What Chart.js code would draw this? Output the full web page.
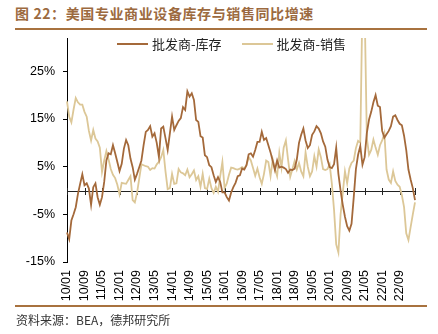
<!DOCTYPE html>
<html>
<head>
<meta charset="utf-8">
<script src="https://cdn.jsdelivr.net/npm/chart.js@4.4.1/dist/chart.umd.min.js"></script>
<style>
  body { margin: 0; background: #fff; }
  #wrap { position: relative; width: 438px; height: 334px; overflow: hidden; font-family: "Noto Sans CJK SC", sans-serif; }
  #title { position: absolute; left: 15px; top: 3px; font-size: 14px; font-weight: bold; color: #9c6a40; letter-spacing: 0.6px; white-space: nowrap; }
  .rule { position: absolute; left: 15px; width: 412px; height: 2px; background: #a8723f; }
  #src { position: absolute; left: 16px; top: 311px; font-size: 12px; color: #333; white-space: nowrap; }
  #legend { position: absolute; left: 117px; top: 34px; font-size: 13px; color: #222; display: flex; align-items: center; white-space: nowrap; }
  #legend .item { display: flex; align-items: center; margin-right: 20px; }
  #legend .swatch { width: 31px; height: 2px; margin-right: 4px; }
  canvas { position: absolute; left: 0; top: 0; }
</style>
</head>
<body>
<div id="wrap">
  <div id="title">图 22：美国专业商业设备库存与销售同比增速</div>
  <div class="rule" style="top:28px"></div>
  <canvas id="myChart" width="438" height="334"></canvas>
  <div id="legend"></div>
  <div class="rule" style="top:305px"></div>
  <div id="src">资料来源：BEA，德邦研究所</div>
</div>
<script>
// 月份标签 2010/01 - 2023/04
const categories = [];
for (let y = 10; y <= 23; y++) {
  for (let m = 1; m <= 12; m++) {
    categories.push(y + '/' + String(m).padStart(2, '0'));
  }
}
categories.length = 160;

const xTickLabels = ['10/01', '10/09', '11/05', '12/01', '12/09', '13/05', '14/01', '14/09', '15/05', '16/01',
  '16/09', '17/05', '18/01', '18/09', '19/05', '20/01', '20/09', '21/05', '22/01', '22/09'];
const yTicks = [-15, -5, 5, 15, 25];

const seriesNames = ['批发商-库存', '批发商-销售'];
const seriesColors = ['#a4693a', '#dcc797'];

// 批发商-库存 同比 (%)
const inventory = [
  -8.8, -10.2, -6.3, -5, -3.5, -0.7, 1.4, 3.4, 1.1, 1.5,
  0.4, -3, 0.7, 1.5, -1.4, -3, -1.4, 1.8, 6.3, 7.8,
  7.6, 9.5, 7.8, 6, 4.1, 5.6, 8.8, 10.6, 9.5, 6.7,
  4.9, 2.3, 3.5, 4.9, 6.3, 9.5, 12.3, 12.7, 13.5, 11.3,
  12, 10, 7, 13, 13.4, 11, 8.5, 12, 15.5, 12.7,
  13.7, 14.6, 15.2, 17.5, 16.9, 20.8, 19.7, 20.4, 19, 14.8,
  14.4, 11.4, 11.1, 7.4, 7, 5.3, 4.9, 3.2, 1.8, 2.8,
  1.8, -0.4, -0.4, -1.4, -2.1, -0.4, 0.7, 1.6, 3, 3.2,
  4.6, 4.4, 5.3, 7.6, 7.8, 7.1, 8.5, 10.2, 10.2, 12.3,
  10.6, 11, 9.5, 8, 6.2, 4.3, 6.3, 4.8, 5, 4.8,
  4.5, 3.7, 4.4, 4.3, 4.6, 6.5, 10, 11.7, 13, 10.5,
  8.9, 9.5, 11.7, 12.4, 13.5, 13, 12, 10.3, 9.2, 6.5,
  4.9, 4.7, 5.5, 9, 3.5, 0, -3, -5.5, -7.5, -8.4,
  -7, -1.5, 4.5, 7.5, 9.3, 5.4, 7, 12.1, 14.9, 16.5,
  18.5, 20, 17.8, 17.5, 12.5, 11.1, 11.8, 12.5, 13.5, 15.5,
  15.8, 14.8, 14, 13.7, 11.5, 8.5, 4.4, 2.3, 0.5, -2
];

// 批发商-销售 同比 (%)
const sales = [
  18.7, 15.5, 14.3, 17, 19.4, 18.5, 18, 18, 16.5, 15.5,
  12.5, 10.5, 12.7, 10.9, 10.3, 9, 3.9, 6.3, 8.3, 6.5,
  4.5, 3.3, 2.6, 1.2, -0.8, 1.6, 1.5, 1.4, 2.2, 3,
  -2, -2.5, -0.5, 2.5, 5.5, 5.3, 5.1, 5, 4.3, 4.7,
  4.6, 5.5, 6, 7, 8.5, 4, 0.3, 0.5, 3.5, 1.4,
  1.5, 4.5, 3.8, 3.6, 3.2, 4.4, 2.8, 3.4, 4.2, 2.2,
  3, 0.8, 3.5, 0.5, 0.3, 2.5, 0.5, -0.5, 0.8, -0.3,
  3, 6, 0.5, 1.5, 3.3, 4.8, 4.7, 4.5, 4.4, 4.6,
  4.9, 4.6, 5.3, 7, 6.3, 4.7, 3.1, 4.6, 2.8, 1.4,
  3.5, 6.3, 6, 3, 6.5, 4.5, 3, 7.9, 4.8, 9,
  10.5, 6.5, 2.9, 4.5, 6.2, 4.4, 5.8, 4, 3, 8,
  5, 3, 4, 7.2, 5, 8.6, 7, 4.5, 4.3, 4.5,
  5.5, 1.5, -4, -11.3, -13, -5, -0.5, 4, 1.5, 4.6,
  5.8, 6.3, 8.9, 10.4, 10, 40, 38, 11, 7.5, 8.5,
  10.7, 9, 7.5, 9.5, 10.5, 12, 4.4, 2.3, 1.6, 4,
  2, 1.2, 0.8, -1, -3.5, -9, -10.4, -7.7, -5, -2.5
];

// 图例
const legend = document.getElementById('legend');
seriesNames.forEach((name, i) => {
  const item = document.createElement('div');
  item.className = 'item';
  item.innerHTML = `<span class="swatch" style="background:${seriesColors[i]}"></span><span>${name}</span>`;
  legend.appendChild(item);
});

// 0 轴线和刻度
const zeroAxis = {
  id: 'zeroAxis',
  beforeDatasetsDraw(chart) {
    const { ctx, chartArea, scales: { x, y } } = chart;
    const y0 = Math.round(y.getPixelForValue(0)) + 0.5;
    ctx.save();
    ctx.strokeStyle = '#222';
    ctx.lineWidth = 1;
    ctx.beginPath();
    ctx.moveTo(chartArea.left, y0);
    ctx.lineTo(chartArea.right, y0);
    categories.forEach((c, i) => {
      if (xTickLabels.includes(c) || i === categories.length - 1) {
        const px = Math.round(x.getPixelForValue(i)) + 0.5;
        ctx.moveTo(px, y0 - 3.5);
        ctx.lineTo(px, y0 + 3.5);
      }
    });
    ctx.stroke();
    ctx.restore();
  }
};

const ctx = document.getElementById('myChart').getContext('2d');

new Chart(ctx, {
  type: 'line',
  data: {
    labels: categories,
    datasets: [
      { label: seriesNames[0], data: inventory, borderColor: seriesColors[0], borderWidth: 1.8, pointRadius: 0, tension: 0 },
      { label: seriesNames[1], data: sales, borderColor: seriesColors[1], borderWidth: 1.8, pointRadius: 0, tension: 0 }
    ]
  },
  options: {
    responsive: false,
    animation: false,
    layout: { padding: { top: 38, right: 22, bottom: 28, left: 0 } },
    plugins: { legend: { display: false }, tooltip: { enabled: false } },
    scales: {
      x: {
        grid: { display: false, drawTicks: false },
        border: { display: false },
        ticks: {
          autoSkip: false,
          minRotation: 90,
          maxRotation: 90,
          padding: 8,
          color: '#000',
          font: { family: 'Liberation Sans', size: 12.5 },
          callback: (v, i) => xTickLabels.includes(categories[i]) ? categories[i] : ''
        },
        afterFit: (scale) => { scale.height = 44; }
      },
      y: {
        min: -15,
        max: 32,
        afterBuildTicks: (scale) => { scale.ticks = yTicks.map(v => ({ value: v })); },
        grid: { drawOnChartArea: false, drawTicks: true, tickLength: 4, color: '#000' },
        border: { display: true, color: '#000', width: 1 },
        ticks: {
          padding: 8,
          color: '#000',
          font: { family: 'Liberation Sans', size: 12.5 },
          callback: (v) => v + '%'
        },
        afterFit: (scale) => { scale.width = 67; }
      }
    }
  },
  plugins: [zeroAxis]
});
</script>
</body>
</html>
